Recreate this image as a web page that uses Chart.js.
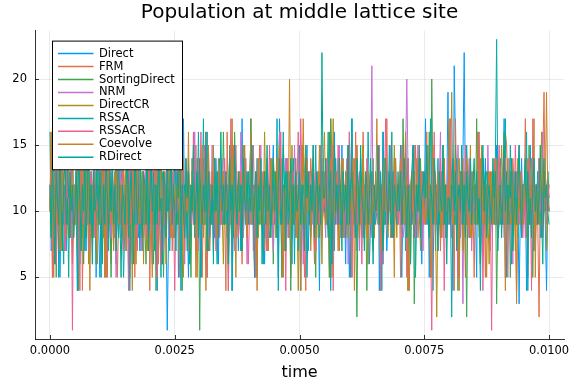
<!DOCTYPE html>
<html>
<head>
<meta charset="utf-8">
<title>Population at middle lattice site</title>
<script src="https://cdn.jsdelivr.net/npm/chart.js@4.4.0/dist/chart.umd.min.js"></script>
<style>
    html, body { margin: 0; padding: 0; background: #fff; }
    #wrap { width: 576px; height: 384px; }
</style>
</head>
<body>
<div id="wrap"><canvas id="chart" width="576" height="384"></canvas></div>
<script>
// Titles and tick labels
const titleText = 'Population at middle lattice site';
const xTitle = 'time';
const tEnd = 0.01;
const xTickValues = [0, 0.0025, 0.005, 0.0075, 0.01];
const xTickLabels = ['0.0000', '0.0025', '0.0050', '0.0075', '0.0100'];
const yTickValues = [5, 10, 15, 20];
const yTickLabels = ['5', '10', '15', '20'];

// Series names and colours (Julia default palette)
const seriesNames = ['Direct', 'FRM', 'SortingDirect', 'NRM', 'DirectCR', 'RSSA', 'RSSACR', 'Coevolve', 'RDirect'];
const seriesColors = ['#009AFA', '#E36F47', '#3EA44E', '#C371D2', '#AC8E18', '#00AAAE', '#ED5E93', '#C68225', '#00A98D'];

// Population values, saved at equal steps from 0 to tEnd (401 points)
const direct = [
    12,7,10,14,9,6,11,16,5,10,15,9,11,7,12,10,8,13,9,11,
    10,14,4,11,6,12,9,16,10,7,15,11,9,8,12,10,14,5,11,9,
    5,12,10,17,9,11,7,10,15,8,12,9,11,6,13,10,9,12,14,7,
    11,9,16,5,10,12,6,11,9,14,10,8,12,11,7,13,9,10,16,8,
    10,15,7,11,9,12,4,14,19,11,6,9,13,10,1,8,11,15,9,10,
    19,11,14,5,12,10,7,17,9,11,10,5,12,8,14,11,9,10,13,7,
    12,5,10,11,15,9,16,7,10,12,9,11,8,14,10,6,12,9,11,13,
    10,9,12,6,11,15,4,10,14,9,11,7,12,10,17,8,11,13,9,10,
    11,16,9,10,7,12,5,11,10,14,9,12,6,11,13,10,8,9,12,15,
    9,10,12,5,17,11,10,7,9,12,14,8,11,10,6,13,9,12,10,11,
    15,4,11,10,9,12,15,7,10,11,9,13,8,12,10,11,4,14,9,10,
    10,12,9,11,5,14,10,7,16,9,11,12,10,8,15,9,11,6,12,10,
    5,11,17,9,10,12,7,11,10,14,9,8,12,11,10,13,6,9,11,12,
    11,9,10,15,4,12,10,16,9,11,7,10,12,13,9,8,11,14,10,9,
    12,10,5,11,9,16,11,7,10,12,9,15,8,11,10,12,9,13,6,11,
    10,17,9,12,5,11,10,9,14,7,12,11,10,8,13,9,12,10,11,19,
    9,11,12,4,21,15,9,11,7,12,10,14,22,11,9,10,12,13,9,11,
    11,10,5,16,9,12,10,7,11,14,9,10,12,8,11,13,10,9,15,8,
    12,9,11,10,17,5,10,12,9,11,6,13,10,9,12,11,3,10,14,9,
    10,12,4,11,9,15,10,11,7,12,9,10,14,8,11,10,13,9,4,11,
    10
];
const frm = [
    10,16,5,11,9,14,12,7,10,11,9,13,8,12,10,15,9,11,6,12,
    11,9,12,10,7,15,4,11,14,10,9,12,11,8,10,13,9,7,12,10,
    9,12,10,14,5,11,17,9,10,6,12,11,8,10,5,9,15,11,10,8,
    12,10,9,11,16,7,10,12,5,11,9,14,10,12,9,8,11,13,10,16,
    4,11,15,9,10,12,11,6,14,10,9,11,12,8,13,10,9,12,7,11,
    17,9,11,10,5,12,10,14,9,11,13,7,10,12,11,9,10,15,5,12,
    10,12,5,11,9,16,11,10,7,12,10,9,14,11,8,12,13,10,9,11,
    11,4,16,10,14,9,11,15,10,8,12,11,9,10,6,13,11,12,9,10,
    9,17,10,12,11,5,10,9,15,11,12,10,7,13,9,11,10,8,12,14,
    12,10,11,9,16,10,5,12,11,14,9,10,12,5,11,13,9,10,11,8,
    10,11,9,15,12,4,11,10,9,14,12,10,6,11,9,13,10,12,8,11,
    13,9,12,10,5,17,14,9,10,12,11,7,13,10,9,12,11,8,10,15,
    11,10,5,12,9,16,10,11,12,9,10,16,8,11,13,10,9,12,11,7,
    9,12,11,10,14,4,12,6,11,10,17,9,12,8,10,11,14,10,9,12,
    12,5,10,15,11,9,10,12,4,11,13,10,9,12,11,8,10,13,11,9,
    10,11,16,9,12,10,5,11,14,9,10,12,11,7,13,10,9,11,12,10,
    11,9,10,12,4,17,11,10,9,12,11,14,10,5,12,9,11,13,10,11,
    5,12,11,10,15,9,10,14,11,5,12,10,9,11,13,10,12,9,11,10,
    12,10,9,11,10,16,15,12,11,9,10,14,12,10,4,11,13,9,10,12,
    10,17,11,5,12,10,9,11,13,10,12,9,2,11,10,14,19,10,12,11,
    10
];
const sortingDirect = [
    11,9,12,10,14,5,11,16,9,10,7,12,11,9,13,10,8,12,15,10,
    9,12,10,4,11,15,10,6,12,9,11,14,10,12,8,11,9,13,10,11,
    12,10,17,9,11,5,10,12,11,5,13,9,10,14,11,8,12,10,9,11,
    10,11,9,12,5,16,11,10,15,9,12,10,8,11,13,10,9,6,12,10,
    15,9,11,10,12,4,10,11,9,13,12,5,10,11,14,9,10,12,11,8,
    10,12,9,17,11,10,4,12,10,9,11,13,10,5,12,11,9,10,14,12,
    1,11,10,12,9,16,5,11,10,12,9,10,13,11,8,12,10,9,11,16,
    11,10,12,4,15,9,11,10,16,12,9,10,11,7,13,10,12,9,11,10,
    9,17,11,10,5,12,10,11,9,13,12,10,8,11,14,9,10,12,11,6,
    12,10,9,11,16,10,5,12,11,9,10,13,12,4,11,10,9,14,10,12,
    10,11,15,9,12,15,11,10,12,9,13,11,10,5,12,9,11,10,13,11,
    11,9,12,16,5,17,10,12,9,11,10,14,9,12,11,8,10,13,11,10,
    16,10,11,9,12,10,2,11,10,13,9,12,10,11,4,12,9,10,11,14,
    9,12,10,11,15,5,10,12,9,11,12,10,13,9,11,10,8,12,10,11,
    11,10,9,17,12,10,11,4,12,9,10,13,3,10,9,12,11,14,10,9,
    12,9,11,10,16,5,20,11,10,12,9,11,13,10,8,15,11,9,10,13,
    10,12,11,9,10,15,11,4,12,10,9,11,12,10,2,11,13,9,10,12,
    11,9,17,10,12,6,11,10,9,12,13,11,10,9,12,10,11,13,3,10,
    9,11,10,12,16,9,10,11,12,5,10,13,11,9,12,10,14,11,9,10,
    12,10,11,9,15,10,12,5,11,10,9,12,13,10,11,9,10,12,11,13,
    11
];
const nrm = [
    10,12,9,13,11,8,10,14,12,9,11,10,7,13,10,12,9,11,15,8,
    12,10,11,9,13,10,8,12,11,14,9,10,12,11,6,13,10,9,12,11,
    9,14,7,11,13,6,12,10,15,8,11,9,13,5,12,10,16,8,11,13,
    11,7,12,15,9,10,6,13,11,8,14,10,12,7,9,13,11,16,8,10,
    13,9,6,12,11,17,8,10,14,9,11,7,12,10,15,8,13,11,9,12,
    8,12,15,10,7,13,9,11,6,14,10,12,8,11,13,9,16,10,12,7,
    12,6,11,14,9,10,13,8,12,10,15,7,11,9,13,12,8,10,14,11,
    10,13,8,12,11,9,15,10,7,13,11,12,9,16,10,8,12,11,6,13,
    11,9,14,7,12,10,8,13,11,15,9,10,12,8,14,11,9,13,10,7,
    13,10,8,11,16,9,12,7,10,14,11,8,13,10,12,9,15,11,8,12,
    9,12,11,6,13,10,14,9,11,8,12,15,10,7,13,11,9,12,10,14,
    10,8,13,12,9,11,7,14,10,12,9,11,15,8,10,13,11,9,12,6,
    12,11,9,13,8,10,15,11,7,12,10,14,9,11,13,8,10,12,21,9,
    8,13,10,11,14,9,12,6,11,10,13,9,12,15,8,11,10,13,9,12,
    11,10,12,8,9,14,20,13,10,12,11,9,15,10,8,12,11,10,13,7,
    13,9,11,10,12,8,14,11,9,13,10,7,12,16,9,11,10,12,8,14,
    10,12,8,13,11,9,10,15,12,8,11,3,13,10,9,12,14,11,7,10,
    12,11,9,10,14,8,13,10,11,12,9,15,10,7,11,13,9,12,10,8,
    9,13,12,11,8,10,12,9,14,11,10,6,13,12,9,11,15,10,8,12,
    11,8,10,13,12,9,11,14,10,7,12,10,13,9,11,16,10,12,9,11,
    12
];
const directCR = [
    11,8,14,10,6,12,9,15,11,7,13,10,12,8,16,9,11,13,7,10,
    12,9,7,13,10,15,8,11,9,14,12,6,10,13,11,8,12,9,15,10,
    9,13,11,8,12,10,5,14,11,9,12,7,13,10,16,8,11,12,9,14,
    10,7,12,15,9,11,13,8,10,6,12,14,9,11,8,13,10,12,7,11,
    13,11,9,10,14,8,12,7,11,15,10,9,13,6,12,11,8,14,10,9,
    8,12,10,13,7,11,16,9,12,10,8,13,11,9,14,10,12,5,11,13,
    11,9,14,8,12,10,13,11,7,12,9,15,10,8,11,13,9,12,10,6,
    12,10,8,11,13,9,7,14,10,12,11,8,13,10,9,15,12,11,8,10,
    9,14,11,10,6,13,12,8,11,9,13,10,16,11,7,12,10,9,14,11,
    13,8,10,12,11,9,14,10,7,13,11,12,8,10,15,9,11,13,10,4,
    10,12,9,15,8,11,10,13,12,7,10,14,9,11,12,8,13,10,6,12,
    11,9,13,10,12,8,11,17,9,10,13,11,7,12,10,14,9,11,13,8,
    12,10,7,11,14,9,13,10,8,12,11,15,10,9,12,6,11,13,10,9,
    8,13,11,12,10,7,12,9,14,10,11,8,13,12,9,10,15,11,8,12,
    10,11,14,9,13,11,8,10,12,6,13,10,11,9,14,12,10,7,11,13,
    12,9,10,13,11,8,12,15,10,9,2,11,13,10,8,12,14,9,11,10,
    11,13,19,10,12,9,11,8,14,10,12,7,13,11,9,12,10,15,8,11,
    9,12,10,11,8,14,10,13,11,9,12,10,6,13,11,10,12,9,14,8,
    13,10,11,9,12,15,8,11,10,13,9,12,11,7,10,14,12,9,11,10,
    10,12,8,13,11,9,14,10,12,8,11,13,10,9,16,11,10,12,7,11,
    12
];
const rssa = [
    16,9,11,7,12,10,15,5,11,13,9,6,12,10,14,11,8,13,10,12,
    10,12,4,14,11,9,17,10,7,12,15,9,11,13,8,10,12,6,11,14,
    12,5,16,10,9,16,11,7,12,10,13,9,11,14,10,8,12,11,9,5,
    9,11,14,12,4,10,15,11,9,15,10,12,7,11,13,9,10,12,14,8,
    11,17,10,6,12,9,11,14,10,5,13,11,9,12,10,15,7,11,13,10,
    14,10,12,9,11,4,16,10,12,11,7,14,10,9,13,12,8,11,10,16,
    10,5,11,17,9,12,10,15,8,11,12,10,13,9,6,11,14,10,12,9,
    12,11,9,10,14,15,4,11,10,12,9,13,11,7,12,10,15,9,11,13,
    9,16,12,11,5,10,14,9,12,11,10,6,13,10,12,8,11,14,9,12,
    11,10,17,4,12,9,11,16,10,13,12,9,10,11,8,14,10,12,11,7,
    15,9,10,12,11,14,5,10,13,9,12,11,10,15,9,12,8,11,13,10,
    10,12,11,9,16,4,12,10,7,14,11,10,12,9,13,11,10,8,12,15,
    12,5,17,11,10,9,14,12,10,11,8,13,9,12,10,16,11,9,13,10,
    9,11,10,14,12,10,4,16,11,9,12,10,15,11,8,13,12,10,9,11,
    11,15,9,10,12,7,11,14,10,12,9,11,13,5,10,12,15,9,11,13,
    10,12,14,9,11,17,10,4,12,11,10,14,9,13,11,10,12,8,11,9,
    16,10,2,12,9,11,14,10,5,12,13,9,11,10,15,12,8,11,10,13,
    11,9,12,15,10,4,11,14,12,9,10,13,11,8,12,10,9,14,23,11,
    12,14,10,9,11,17,5,12,10,15,11,9,12,10,13,8,11,10,12,9,
    10,11,16,4,12,10,9,14,11,12,10,13,9,11,8,12,14,10,11,13,
    10
];
const rssacr = [
    11,14,5,12,10,6,16,9,11,15,10,12,7,13,9,11,10,14,1,12,
    9,12,16,10,4,15,11,9,14,10,12,7,11,13,10,15,8,12,10,11,
    17,10,9,12,14,5,11,17,10,9,13,11,8,12,10,14,9,11,13,7,
    10,12,11,4,16,9,15,10,12,11,7,14,10,9,12,13,11,8,10,16,
    12,9,15,11,10,14,5,12,10,6,11,13,9,12,15,10,11,8,13,10,
    4,11,10,17,12,9,14,11,7,12,10,13,11,9,10,16,12,8,11,14,
    11,16,9,10,15,12,5,11,13,10,9,12,14,7,11,10,13,9,12,10,
    14,10,12,4,11,17,10,9,12,15,11,8,10,13,12,9,11,14,10,6,
    10,12,9,15,11,5,12,14,10,11,9,13,12,10,7,11,15,9,12,11,
    12,9,11,14,10,16,9,11,12,4,14,10,11,12,9,13,10,8,12,16,
    9,17,12,10,5,11,14,10,13,9,12,11,7,13,10,12,9,15,11,10,
    11,10,14,9,12,10,15,4,11,12,10,15,9,11,13,10,8,12,14,9,
    16,11,5,12,10,14,9,11,13,10,6,12,11,9,14,10,12,13,8,11,
    10,12,11,9,15,4,12,10,11,17,9,12,10,14,11,8,13,10,12,9,
    12,9,15,11,10,12,5,14,11,9,13,10,12,8,11,15,10,9,13,11,
    9,11,10,14,12,8,1,11,16,10,12,9,11,14,10,13,4,12,10,11,
    11,17,12,9,10,14,11,5,12,13,10,9,11,15,12,10,8,11,13,10,
    10,12,9,11,16,10,14,4,10,12,9,11,13,10,1,12,11,14,9,12,
    15,10,11,12,9,14,10,5,12,11,13,9,10,15,11,12,9,10,13,8,
    11,9,12,10,14,11,4,17,10,12,9,11,14,10,12,8,11,13,10,12,
    11
];
const coevolve = [
    10,16,11,5,12,14,9,11,7,13,10,12,15,9,11,8,12,10,14,11,
    12,9,14,10,11,7,17,10,12,9,16,11,4,12,10,13,11,9,6,12,
    9,11,12,15,5,10,15,11,9,12,10,7,13,11,14,9,10,12,11,8,
    11,14,10,9,12,11,4,16,10,15,12,9,11,10,13,6,12,11,9,14,
    17,10,5,12,11,9,14,10,12,11,7,13,10,9,12,15,11,8,10,12,
    10,12,11,14,9,16,10,5,11,12,10,16,9,11,13,10,12,7,11,9,
    12,9,15,10,11,4,12,15,10,9,13,11,12,10,8,14,11,10,12,13,
    9,11,10,12,14,10,17,9,11,5,12,10,13,11,9,12,15,10,8,11,
    11,16,9,11,10,12,4,14,12,10,11,9,13,10,12,7,11,14,9,10,
    12,10,14,9,15,11,10,5,12,11,13,10,20,9,11,12,10,13,8,12,
    10,4,12,17,11,9,14,10,12,9,11,13,10,7,12,11,15,9,10,13,
    16,11,9,10,12,14,5,11,10,13,12,9,11,10,14,8,12,11,13,10,
    9,12,10,14,4,11,15,10,12,11,9,15,10,12,8,13,11,9,12,10,
    11,10,17,9,12,10,7,12,14,10,11,9,13,12,10,11,5,14,10,12,
    12,14,10,11,9,16,11,4,10,12,13,10,9,15,11,12,10,13,9,11,
    10,9,12,15,11,5,12,10,14,9,11,13,10,12,8,11,14,10,12,9,
    17,11,10,9,12,14,10,11,4,13,12,10,11,9,14,12,10,8,11,13,
    11,12,9,16,10,11,15,9,12,10,5,11,13,10,12,9,14,11,10,12,
    9,10,15,12,11,4,12,14,10,11,13,9,12,10,3,11,10,13,12,9,
    12,11,10,14,9,12,10,11,17,5,12,10,9,14,11,13,10,12,19,11,
    10
];
const rDirect = [
    12,8,14,10,6,13,11,9,15,10,7,12,14,9,11,5,13,10,12,8,
    10,13,9,15,11,7,12,10,14,8,11,16,9,12,6,13,10,11,15,9,
    13,10,6,12,9,14,11,8,13,10,15,9,12,7,11,14,10,5,12,11,
    9,12,15,8,11,13,10,6,14,12,9,11,16,10,8,13,12,9,14,7,
    11,14,10,13,7,12,9,15,10,11,6,13,12,8,14,10,11,15,9,12,
    10,7,13,11,16,9,12,10,8,14,11,13,6,12,10,15,9,11,13,8,
    14,11,9,12,10,15,7,13,11,9,12,6,14,10,13,8,11,16,10,12,
    9,13,11,6,14,10,12,8,15,11,9,13,10,12,7,14,11,10,13,9,
    12,10,15,9,11,13,8,12,10,14,6,11,13,9,15,10,12,8,11,14,
    10,13,8,12,14,11,9,15,12,7,13,10,11,14,9,12,6,13,10,11,
    13,9,12,10,7,14,11,13,9,12,10,15,8,11,13,10,12,9,22,11,
    11,14,10,8,12,13,6,11,15,10,12,9,14,11,7,13,10,12,9,15,
    9,12,13,11,10,8,14,12,9,15,11,10,7,13,12,9,11,14,10,6,
    12,10,11,15,9,13,10,7,12,14,11,9,13,10,16,8,12,11,10,13,
    10,13,9,12,14,11,8,12,10,6,13,15,11,9,12,10,14,8,11,12,
    13,11,15,10,8,12,11,9,14,12,10,7,13,11,10,15,9,12,6,11,
    11,9,12,14,10,13,7,11,12,10,15,9,12,8,13,11,10,14,9,12,
    14,10,13,9,11,6,12,15,10,13,8,11,12,10,9,14,11,13,10,7,
    10,12,8,11,15,10,13,9,12,11,14,7,10,13,9,12,15,11,8,12,
    12,14,10,13,9,11,8,12,14,10,12,9,11,15,10,6,13,11,12,10,
    9
];

const seriesValues = [direct, frm, sortingDirect, nrm, directCR, rssa, rssacr, coevolve, rDirect];

const fontFamily = "'DejaVu Sans', sans-serif";

// Build {x, y} points: values are saved at even steps over [0, tEnd]
function toPoints(values) {
    const n = values.length;
    return values.map((v, i) => ({ x: tEnd * i / (n - 1), y: v }));
}

// Julia style: short tick marks pointing into the plot
const innerTicks = {
    id: 'innerTicks',
    afterDatasetsDraw(chart) {
        const ctx = chart.ctx;
        const xs = chart.scales.x;
        const ys = chart.scales.y;
        const area = chart.chartArea;
        ctx.save();
        ctx.strokeStyle = 'rgba(0,0,0,0.8)';
        ctx.lineWidth = 1;
        ctx.beginPath();
        xTickValues.forEach(v => {
            const px = Math.round(xs.getPixelForValue(v)) + 0.5;
            ctx.moveTo(px, area.bottom);
            ctx.lineTo(px, area.bottom - 4);
        });
        yTickValues.forEach(v => {
            const py = Math.round(ys.getPixelForValue(v)) + 0.5;
            ctx.moveTo(area.left, py);
            ctx.lineTo(area.left + 4, py);
        });
        ctx.stroke();
        ctx.restore();
    }
};

// Legend box in the upper left of the plot
const legendBox = {
    id: 'legendBox',
    afterDraw(chart) {
        const ctx = chart.ctx;
        const area = chart.chartArea;
        const sets = chart.data.datasets;
        const left = area.left + 17.5;
        const top = area.top + 10.5;
        const rowH = 12.96;
        const w = 130;
        const h = rowH * sets.length + 12;
        ctx.save();
        ctx.fillStyle = '#fff';
        ctx.fillRect(left, top, w, h);
        ctx.strokeStyle = '#000';
        ctx.lineWidth = 1;
        ctx.strokeRect(left, top, w, h);
        ctx.font = '11.5px ' + fontFamily;
        ctx.textAlign = 'left';
        ctx.textBaseline = 'middle';
        sets.forEach((ds, i) => {
            const y = top + 12.5 + i * rowH;
            ctx.strokeStyle = ds.borderColor;
            ctx.lineWidth = 1.5;
            ctx.beginPath();
            ctx.moveTo(left + 5.5, y);
            ctx.lineTo(left + 41, y);
            ctx.stroke();
            ctx.fillStyle = '#000';
            ctx.fillText(ds.label, left + 46.5, y);
        });
        ctx.restore();
    }
};

// Later series are painted over earlier ones, as in the original plot
const datasets = seriesNames.map((name, i) => ({
    label: name,
    data: toPoints(seriesValues[i]),
    borderColor: seriesColors[i],
    backgroundColor: seriesColors[i],
    borderWidth: 1,
    pointRadius: 0,
    tension: 0,
    fill: false,
    order: seriesNames.length - i
}));

const ctx = document.getElementById('chart').getContext('2d');
new Chart(ctx, {
    type: 'line',
    data: { datasets: datasets },
    options: {
        responsive: false,
        animation: false,
        parsing: false,
        normalized: true,
        layout: { padding: { left: 0, right: 12, top: 0, bottom: 0 } },
        plugins: {
            legend: { display: false },
            tooltip: { enabled: false },
            title: {
                display: true,
                text: titleText,
                fullSize: false,
                color: '#000',
                font: { family: fontFamily, size: 20, weight: 'normal', lineHeight: 1.2 },
                padding: { top: 1, bottom: 5.6 }
            }
        },
        scales: {
            x: {
                type: 'linear',
                min: -0.0003,
                max: 0.0103,
                afterFit: (scale) => { scale.height = 45; },
                afterBuildTicks: (scale) => { scale.ticks = xTickValues.map(v => ({ value: v })); },
                ticks: {
                    autoSkip: false,
                    maxRotation: 0,
                    padding: 5,
                    color: '#000',
                    font: { family: fontFamily, size: 11.5 },
                    callback: (value, index) => xTickLabels[index]
                },
                grid: { color: 'rgba(0,0,0,0.08)', lineWidth: 1, drawTicks: false },
                border: { color: 'rgba(0,0,0,0.8)', width: 1 },
                title: {
                    display: true,
                    text: xTitle,
                    color: '#000',
                    font: { family: fontFamily, size: 16, lineHeight: 1.2 },
                    padding: { top: 0, bottom: 1.4 }
                }
            },
            y: {
                type: 'linear',
                min: 0.34,
                max: 23.66,
                afterFit: (scale) => { scale.width = 35; },
                afterBuildTicks: (scale) => { scale.ticks = yTickValues.map(v => ({ value: v })); },
                ticks: {
                    autoSkip: false,
                    padding: 8,
                    color: '#000',
                    font: { family: fontFamily, size: 11.5 },
                    callback: (value, index) => yTickLabels[index]
                },
                grid: { color: 'rgba(0,0,0,0.08)', lineWidth: 1, drawTicks: false },
                border: { color: 'rgba(0,0,0,0.8)', width: 1 }
            }
        }
    },
    plugins: [innerTicks, legendBox]
});
</script>
</body>
</html>
